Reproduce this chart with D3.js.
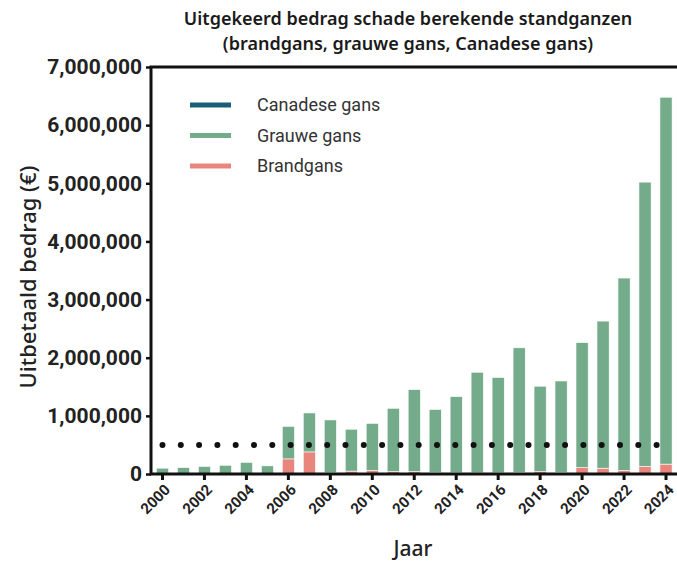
<!DOCTYPE html>
<html>
<head>
<meta charset="utf-8">
<script src="https://cdn.jsdelivr.net/npm/d3@7"></script>
<style>
  body { margin: 0; background: #fff; }
  svg { display: block; }
</style>
</head>
<body>
<div id="chart"></div>
<script>
// data (euros paid out per year)
const years = d3.range(2000, 2025).map(String);
const brandgans = [0, 0, 0, 0, 0, 0, 260000, 380000, 20000, 50000, 60000, 40000, 40000, 30000, 20000, 20000, 20000, 30000, 40000, 30000, 110000, 100000, 60000, 130000, 170000];
const grauweGans = [100000, 110000, 130000, 150000, 200000, 140000, 560000, 670000, 910000, 720000, 810000, 1090000, 1410000, 1080000, 1310000, 1730000, 1640000, 2140000, 1470000, 1570000, 2150000, 2530000, 3310000, 4890000, 6310000];
const canadeseGans = [0, 0, 0, 0, 0, 0, 0, 0, 0, 0, 0, 0, 0, 0, 0, 0, 0, 0, 0, 0, 0, 0, 0, 0, 0];
const yTicks = [0, 1000000, 2000000, 3000000, 4000000, 5000000, 6000000, 7000000];
const xTickYears = years.filter((d, i) => i % 2 === 0);
const threshold = 500000;

const seriesNames = ["Brandgans", "Grauwe gans", "Canadese gans"];
const colors = { "Brandgans": "#e8857c", "Grauwe gans": "#74ab8b", "Canadese gans": "#1d5d7c" };

const width = 677;
const height = 569;

const svg = d3.select("#chart")
    .append("svg")
    .attr("width", width)
    .attr("height", height);

const x0 = 152, x1 = 676.5, yTop = 67, yBottom = 474;

const x = d3.scaleBand()
    .domain(years)
    .range([x0, x1])
    .paddingInner(0.42)
    .paddingOuter(0.21);

const y = d3.scaleLinear()
    .domain([0, 7000000])
    .range([yBottom, yTop]);

// build table for stack
const table = years.map((yr, i) => ({
    year: yr,
    "Brandgans": brandgans[i],
    "Grauwe gans": grauweGans[i],
    "Canadese gans": canadeseGans[i]
}));

const stacked = d3.stack().keys(seriesNames)(table);

svg.append("g")
    .selectAll("g")
    .data(stacked)
    .join("g")
    .attr("fill", d => colors[d.key])
    .selectAll("rect")
    .data(d => d)
    .join("rect")
    .attr("x", d => x(d.data.year))
    .attr("width", x.bandwidth())
    .attr("y", d => y(d[1]))
    .attr("height", d => Math.max(0, y(d[0]) - y(d[1])))
    .attr("stroke", "#fff")
    .attr("stroke-width", 0.6);

// dotted threshold line
svg.append("line")
    .attr("x1", x("2000") + x.bandwidth() / 2)
    .attr("x2", 658)
    .attr("y1", y(threshold))
    .attr("y2", y(threshold))
    .attr("stroke", "#111")
    .attr("stroke-width", 6)
    .attr("stroke-linecap", "round")
    .attr("stroke-dasharray", "0 18.3");

// axes
const yAxis = d3.axisLeft(y)
    .tickValues(yTicks)
    .tickSize(5)
    .tickPadding(4)
    .tickFormat(d3.format(","));

const gy = svg.append("g")
    .attr("transform", `translate(${x0 - 1},0)`)
    .call(yAxis);
gy.select(".domain").remove();
gy.selectAll("line").attr("stroke", "#111").attr("stroke-width", 2.5);
gy.selectAll("text")
    .attr("font-family", "Roboto, sans-serif")
    .attr("font-weight", 700)
    .attr("font-size", 21)
    .attr("fill", "#222");

const xAxis = d3.axisBottom(x)
    .tickValues(xTickYears)
    .tickSize(6)
    .tickFormat(d => d);

const gx = svg.append("g")
    .attr("transform", `translate(0,${yBottom})`)
    .call(xAxis);
gx.select(".domain").remove();
gx.selectAll("line").attr("stroke", "#111").attr("stroke-width", 3);
gx.selectAll("text")
    .attr("font-family", "Roboto, sans-serif")
    .attr("font-weight", 700)
    .attr("font-size", 15)
    .attr("fill", "#222")
    .attr("text-anchor", "end")
    .attr("x", 0)
    .attr("y", 0)
    .attr("dy", "0.35em")
    .attr("transform", "translate(5,13) rotate(-45)");

// frame lines: left, bottom, top
svg.append("path")
    .attr("d", `M${width},${yTop} H${x0 - 1} V${yBottom} H${width}`)
    .attr("fill", "none")
    .attr("stroke", "#111")
    .attr("stroke-width", 3);

// legend
const legendItems = ["Canadese gans", "Grauwe gans", "Brandgans"];
const legend = svg.append("g");
legendItems.forEach((name, i) => {
    const ly = 105 + i * 30.5;
    legend.append("line")
        .attr("x1", 190).attr("x2", 231)
        .attr("y1", ly).attr("y2", ly)
        .attr("stroke", colors[name])
        .attr("stroke-width", 5);
    legend.append("text")
        .attr("x", 257)
        .attr("y", ly)
        .attr("dy", "0.35em")
        .attr("font-family", "Roboto, sans-serif")
        .attr("font-size", 18)
        .attr("fill", "#333")
        .text(name);
});

// title
const title = svg.append("text")
    .attr("x", 408)
    .attr("text-anchor", "middle")
    .attr("font-family", "'Noto Sans', sans-serif")
    .attr("font-weight", 600)
    .attr("font-size", 18)
    .attr("fill", "#1a1a1a");
title.append("tspan").attr("x", 408).attr("y", 25).text("Uitgekeerd bedrag schade berekende standganzen");
title.append("tspan").attr("x", 408).attr("y", 50).text("(brandgans, grauwe gans, Canadese gans)");

// axis titles
svg.append("text")
    .attr("transform", "translate(36,277) rotate(-90)")
    .attr("text-anchor", "middle")
    .attr("font-family", "'Noto Sans', sans-serif")
    .attr("font-weight", 500)
    .attr("font-size", 22)
    .attr("fill", "#222")
    .text("Uitbetaald bedrag (€)");

svg.append("text")
    .attr("x", 413)
    .attr("y", 556)
    .attr("text-anchor", "middle")
    .attr("font-family", "'Noto Sans', sans-serif")
    .attr("font-weight", 500)
    .attr("font-size", 21)
    .attr("fill", "#222")
    .text("Jaar");
</script>
</body>
</html>
